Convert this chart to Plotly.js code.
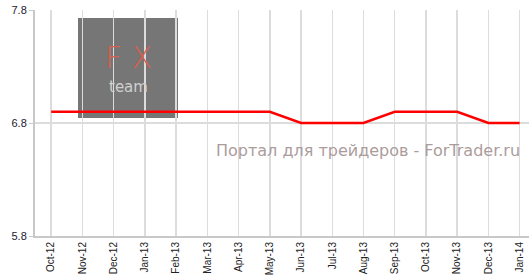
<!DOCTYPE html>
<html>
<head>
<meta charset="utf-8">
<script src="https://cdn.plot.ly/plotly-3.0.1.min.js"></script>
<style>html,body{margin:0;padding:0;background:#fff;}#chart{width:529px;height:278px;}</style>
</head>
<body>
<div id="chart"></div>
<script>
const categories = ["Oct-12","Nov-12","Dec-12","Jan-13","Feb-13","Mar-13","Apr-13","May-13","Jun-13","Jul-13","Aug-13","Sep-13","Oct-13","Nov-13","Dec-13","Jan-14"];
const values = [6.9,6.9,6.9,6.9,6.9,6.9,6.9,6.9,6.8,6.8,6.8,6.9,6.9,6.9,6.8,6.8];
const yTicks = [5.8, 6.8, 7.8];

const idx = categories.map((c, i) => i);

const trace = {
  x: idx,
  y: values,
  type: 'scatter',
  mode: 'lines',
  line: {color: '#ff0000', width: 2.5},
  hoverinfo: 'skip'
};

const layout = {
  width: 529, height: 278,
  margin: {l: 35, r: 0, t: 10, b: 42},
  paper_bgcolor: '#fff', plot_bgcolor: '#fff',
  showlegend: false,
  xaxis: {
    range: [-0.52, 15.3],
    tickmode: 'array', tickvals: idx, ticktext: categories,
    tickangle: -90,
    tickfont: {family: 'Liberation Sans, Arial, sans-serif', size: 10, color: '#222'},
    showgrid: true, gridcolor: '#dcdcdc', gridwidth: 1.5,
    showline: true, linecolor: '#c8c8c8', linewidth: 2,
    ticks: '', zeroline: false, fixedrange: true
  },
  yaxis: {
    range: [5.8, 7.8],
    tickmode: 'array', tickvals: yTicks, ticktext: yTicks.map(v => v.toFixed(1)),
    tickfont: {family: 'Liberation Sans, Arial, sans-serif', size: 11, color: '#1a1a33'},
    showgrid: true, gridcolor: '#dcdcdc', gridwidth: 1.5,
    showline: true, linecolor: '#c8c8c8', linewidth: 2,
    ticks: 'outside', ticklen: 4, tickcolor: '#c8c8c8', tickwidth: 1,
    zeroline: false, fixedrange: true
  },
  shapes: [{
    type: 'rect', xref: 'paper', yref: 'paper', layer: 'below',
    x0: (78-35)/494, x1: (178-35)/494,
    y0: (236-118)/226, y1: (236-18)/226,
    fillcolor: '#767676', line: {width: 0}
  }],
  annotations: [
    {xref: 'paper', yref: 'paper', x: (128-35)/494, y: (236-57)/226,
     text: 'F X', showarrow: false,
     font: {family: 'DejaVu Sans, sans-serif', size: 30, color: '#d9604f', weight: 300},
     xanchor: 'center', yanchor: 'middle'},
    {xref: 'paper', yref: 'paper', x: (128-35)/494, y: (236-87)/226,
     text: 'team', showarrow: false,
     font: {family: 'DejaVu Sans, sans-serif', size: 15, color: '#d0d0d0'},
     xanchor: 'center', yanchor: 'middle'},
    {xref: 'paper', yref: 'paper', x: (522-35)/494, y: (236-150)/226,
     text: 'Портал для трейдеров - ForTrader.ru', showarrow: false,
     font: {family: 'DejaVu Sans, sans-serif', size: 16, color: '#ab9c9c'},
     xanchor: 'right', yanchor: 'middle'}
  ]
};

Plotly.newPlot('chart', [trace], layout, {staticPlot: true, displayModeBar: false});
</script>
</body>
</html>
